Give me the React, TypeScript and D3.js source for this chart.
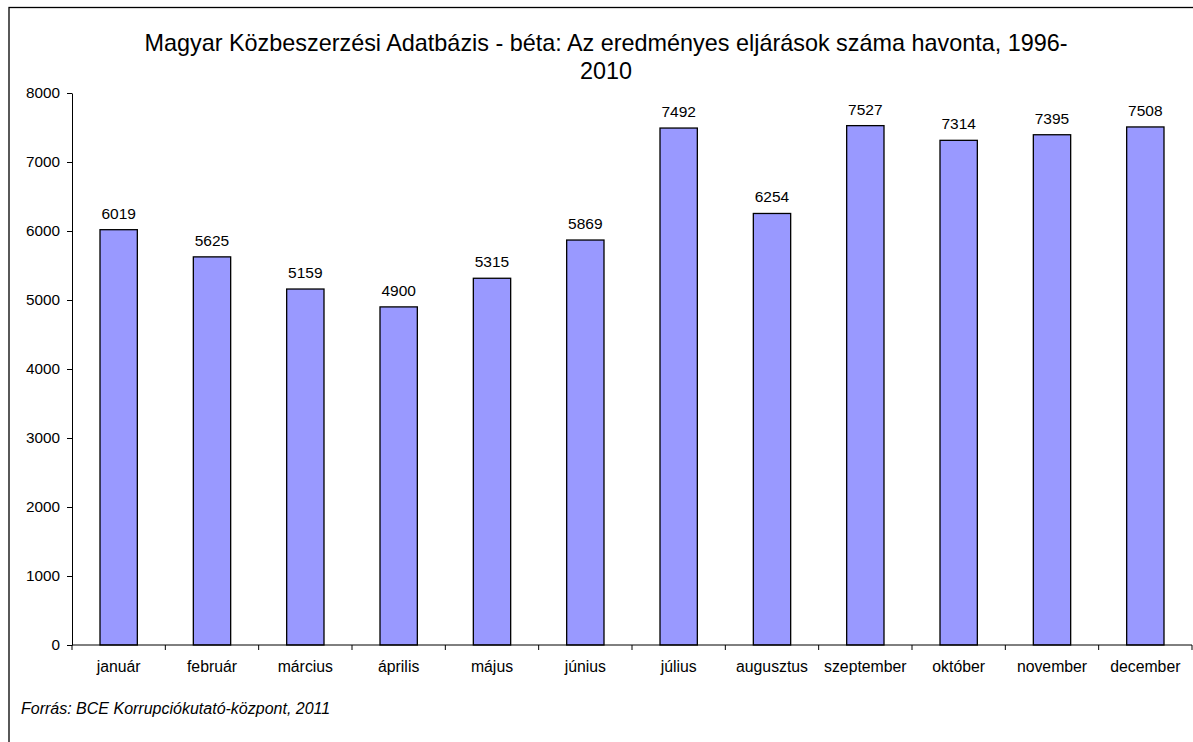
import React, { useRef, useEffect } from "react";
import * as d3 from "d3";

const months = [
  "január", "február", "március", "április", "május", "június",
  "július", "augusztus", "szeptember", "október", "november", "december",
];
const counts = [6019, 5625, 5159, 4900, 5315, 5869, 7492, 6254, 7527, 7314, 7395, 7508];
const yTicks = [0, 1000, 2000, 3000, 4000, 5000, 6000, 7000, 8000];
const titleLines = [
  "Magyar Közbeszerzési Adatbázis - béta: Az eredményes eljárások száma havonta, 1996-",
  "2010",
];
const sourceNote = "Forrás: BCE Korrupciókutató-központ, 2011";

const App: React.FC = () => {
  const svgRef = useRef<SVGSVGElement>(null);

  useEffect(() => {
    if (!svgRef.current) return;
    const svg = d3.select(svgRef.current);
    svg.selectAll("*").remove();

    const width = 1193;
    const height = 742;
    const font = "'Liberation Sans', Arial, sans-serif";
    const left = 72;
    const right = 1192;
    const top = 93;
    const bottom = 645;

    svg.attr("width", width).attr("height", height).style("font-family", font);

    svg.append("rect").attr("width", width).attr("height", height).attr("fill", "#fff");

    // outer frame, cut off at right and bottom
    svg
      .append("rect")
      .attr("x", 9)
      .attr("y", 7.5)
      .attr("width", width + 10)
      .attr("height", height + 10)
      .attr("fill", "none")
      .attr("stroke", "#000")
      .attr("stroke-width", 1.3);

    const x = d3.scaleBand<string>().domain(months).range([left, right]).paddingInner(0.6).paddingOuter(0.3);
    const xBand = d3.scaleBand<string>().domain(months).range([left, right]);
    const y = d3.scaleLinear().domain([0, 8000]).range([bottom, top]);

    // title
    svg
      .append("text")
      .attr("x", 606)
      .attr("y", 51)
      .attr("text-anchor", "middle")
      .attr("font-size", 23.4)
      .attr("fill", "#000")
      .selectAll("tspan")
      .data(titleLines)
      .enter()
      .append("tspan")
      .attr("x", 606)
      .attr("dy", (_d, i) => (i === 0 ? 0 : 28))
      .text((d) => d);

    // bars
    svg
      .selectAll(".bar")
      .data(counts)
      .enter()
      .append("rect")
      .attr("class", "bar")
      .attr("x", (_d, i) => x(months[i])!)
      .attr("y", (d) => y(d))
      .attr("width", x.bandwidth())
      .attr("height", (d) => bottom - y(d))
      .attr("fill", "#9999FF")
      .attr("stroke", "#000")
      .attr("stroke-width", 1.3);

    // value labels
    svg
      .selectAll(".val")
      .data(counts)
      .enter()
      .append("text")
      .attr("x", (_d, i) => x(months[i])! + x.bandwidth() / 2)
      .attr("y", (d) => y(d) - 11)
      .attr("text-anchor", "middle")
      .attr("font-size", 15.5)
      .text((d) => d);

    // y axis
    const yAxis = svg
      .append("g")
      .attr("transform", `translate(${left},0)`)
      .call(d3.axisLeft(y).tickValues(yTicks).tickSize(5).tickSizeOuter(0).tickPadding(7).tickFormat((d) => String(d)));
    yAxis.selectAll("text").attr("font-size", 15.3).attr("font-family", font).attr("fill", "#000");
    yAxis.selectAll("line,path").attr("stroke", "#000");

    // x axis with ticks between categories
    const xAxis = svg.append("g").attr("transform", `translate(0,${bottom})`);
    xAxis.append("line").attr("x1", left).attr("x2", right).attr("stroke", "#000");
    const boundaries = months.map((m) => xBand(m)!).concat([right]);
    xAxis
      .selectAll(".tick")
      .data(boundaries)
      .enter()
      .append("line")
      .attr("x1", (d) => d)
      .attr("x2", (d) => d)
      .attr("y1", 0)
      .attr("y2", 5)
      .attr("stroke", "#000");
    xAxis
      .selectAll(".lbl")
      .data(months)
      .enter()
      .append("text")
      .attr("x", (d) => xBand(d)! + xBand.bandwidth() / 2)
      .attr("y", 27)
      .attr("text-anchor", "middle")
      .attr("font-size", 15.8)
      .text((d) => d);

    // source
    svg
      .append("text")
      .attr("x", 21)
      .attr("y", 714)
      .attr("font-size", 16)
      .attr("font-style", "italic")
      .text(sourceNote);
  }, []);

  return <svg ref={svgRef} style={{ display: "block", position: "absolute", left: 0, top: 0 }}></svg>;
};

export default App;
